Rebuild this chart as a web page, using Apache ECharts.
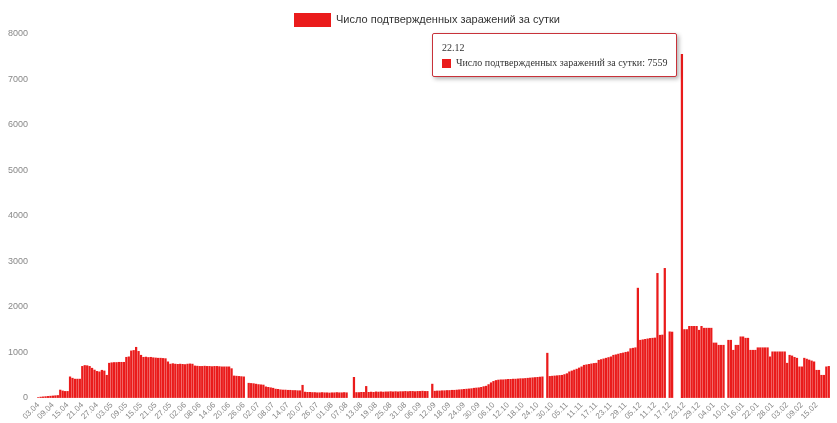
<!DOCTYPE html>
<html>
<head>
<meta charset="utf-8">
<script src="https://cdn.jsdelivr.net/npm/echarts@6/dist/echarts.min.js"></script>
<style>
html,body{margin:0;padding:0;background:#fff;}
#c{width:837px;height:423px;}
</style>
</head>
<body>
<div id="c"></div>
<script>
const seriesName = 'Число подтвержденных заражений за сутки';
const startDate = [2020, 4, 3]; // year, month, day of first category
const yTicks = [0, 1000, 2000, 3000, 4000, 5000, 6000, 7000, 8000];
const highlightDate = '22.12';

const cases = [
  15, 25, 30, 35, 40, 45, 50, 55, 60, 180,
  160, 150, 150, 470, 440, 420, 420, 420, 700, 720,
  715, 700, 660, 620, 590, 580, 615, 600, 505, 770,
  780, 785, 785, 790, 790, 790, 900, 910, 1040, 1050,
  1120, 1030, 945, 900, 905, 895, 900, 890, 885, 880,
  880, 875, 870, 800, 750, 760, 750, 745, 750, 745,
  740, 750, 755, 750, 710, 705, 700, 700, 705, 700,
  700, 695, 700, 700, 695, 690, 690, 690, 690, 650,
  490, 485, 480, 475, 470, 0, 330, 325, 320, 310,
  300, 295, 290, 250, 240, 230, 220, 200, 195, 185,
  180, 180, 175, 175, 170, 170, 165, 165, 285, 135,
  130, 130, 125, 125, 120, 120, 125, 120, 120, 115,
  120, 120, 125, 120, 120, 125, 120, 0, 0, 460,
  125, 125, 130, 130, 260, 130, 135, 130, 140, 135,
  140, 135, 140, 140, 145, 140, 145, 140, 145, 145,
  150, 145, 150, 150, 145, 150, 150, 155, 150, 150,
  0, 310, 155, 160, 160, 165, 165, 170, 170, 175,
  175, 180, 185, 190, 195, 200, 205, 210, 220, 225,
  230, 240, 255, 265, 300, 340, 370, 390, 400, 405,
  405, 410, 415, 415, 420, 420, 425, 430, 430, 435,
  440, 445, 450, 455, 460, 465, 470, 0, 990, 480,
  485, 490, 495, 500, 505, 520, 540, 580, 600, 620,
  640, 665, 690, 725, 735, 745, 755, 765, 770, 835,
  850, 865, 880, 895, 910, 945, 955, 970, 985, 995,
  1010, 1020, 1090, 1100, 1110, 2420, 1275, 1285, 1295, 1305,
  1315, 1320, 1325, 2745, 1385, 1390, 2855, 0, 1460, 1455,
  0, 0, 0, 7559, 1510, 1510, 1580, 1580, 1580, 1580,
  1495, 1580, 1540, 1540, 1540, 1540, 1215, 1215, 1165, 1165,
  1165, 0, 1275, 1275, 1055, 1165, 1165, 1350, 1350, 1320,
  1320, 1055, 1055, 1055, 1110, 1110, 1110, 1110, 1110, 910,
  1020, 1020, 1020, 1020, 1020, 1020, 770, 945, 930, 900,
  880, 690, 690, 880, 860, 840, 820, 800, 615, 615,
  505, 505, 690, 700
];

const pad = n => (n < 10 ? '0' : '') + n;
const dates = cases.map((_, i) => {
  const d = new Date(startDate[0], startDate[1] - 1, startDate[2] + i);
  return pad(d.getDate()) + '.' + pad(d.getMonth() + 1);
});

const RED = '#ea1b1b';
const chart = echarts.init(document.getElementById('c'), null, {renderer: 'canvas'});
chart.setOption({
  animation: false,
  backgroundColor: '#fff',
  textStyle: {fontFamily: 'Liberation Sans, Arial, sans-serif'},
  legend: {
    left: 289, top: 8,
    icon: 'rect', itemWidth: 37, itemHeight: 14, itemGap: 10,
    textStyle: {fontSize: 11, color: '#333'},
    data: [seriesName]
  },
  tooltip: {
    trigger: 'item',
    triggerOn: 'none',
    alwaysShowContent: true,
    position: [432, 33],
    backgroundColor: '#fff',
    borderColor: '#c8323a',
    borderWidth: 1,
    padding: [6, 9],
    extraCssText: 'box-shadow:2px 2px 4px rgba(0,0,0,0.3);border-radius:2px;',
    textStyle: {fontFamily: 'Liberation Serif, serif', fontSize: 10, color: '#333'},
    formatter: p => p.name + '<br/><span style="display:inline-block;vertical-align:middle;margin-right:5px;width:9px;height:9px;background:' + RED + ';"></span>' + p.seriesName + ': ' + p.value
  },
  grid: {left: 37, right: 7, top: 34, bottom: 25},
  xAxis: {
    type: 'category',
    data: dates,
    axisLine: {show: false},
    axisTick: {show: false},
    axisLabel: {interval: 5, rotate: 45, fontSize: 8, color: '#888', margin: 6}
  },
  yAxis: {
    type: 'value',
    min: yTicks[0], max: yTicks[yTicks.length - 1], interval: 1000,
    axisLine: {show: false},
    axisTick: {show: false},
    splitLine: {show: false},
    axisLabel: {fontSize: 9, color: '#888', margin: 9, formatter: v => String(v)}
  },
  series: [{
    name: seriesName,
    type: 'bar',
    data: cases,
    barCategoryGap: '8%',
    itemStyle: {color: RED}
  }]
});
chart.dispatchAction({type: 'showTip', seriesIndex: 0, dataIndex: dates.indexOf(highlightDate)});
</script>
</body>
</html>
